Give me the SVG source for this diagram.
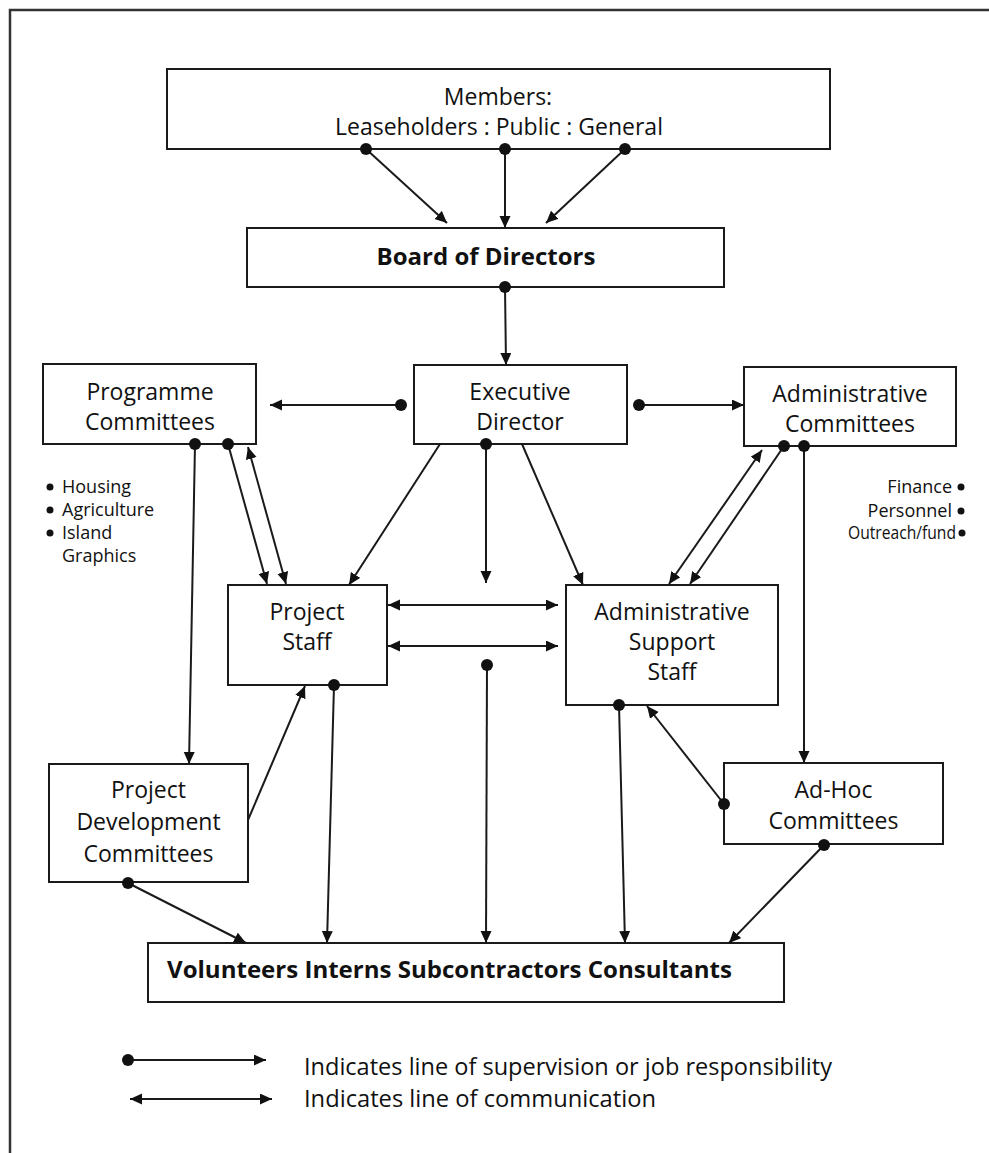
<svg xmlns="http://www.w3.org/2000/svg" width="989" height="1153" viewBox="0 0 989 1153">
<style>
.box{fill:#fff;stroke:#1a1a1a;stroke-width:2}
.t{font-family:"Open Sans","Liberation Sans",sans-serif;font-size:23px;fill:#111;text-anchor:middle}
.b{font-weight:bold;font-size:24px}
.s{font-size:18px;text-anchor:start}
.e{font-size:18px;text-anchor:end}
.bul{fill:#111}
.lg{font-size:23px;text-anchor:start}
.c line{stroke:#1a1a1a;stroke-width:2;fill:none}
.sup{marker-start:url(#dot);marker-end:url(#ah)}
.com{marker-start:url(#ahs);marker-end:url(#ah)}
.arr{marker-end:url(#ah)}
</style>
<defs>
<marker id="ah" markerUnits="userSpaceOnUse" markerWidth="14" markerHeight="12" refX="12" refY="5.5" orient="auto"><path d="M0,0 L12,5.5 L0,11 z" fill="#111"/></marker>
<marker id="ahs" markerUnits="userSpaceOnUse" markerWidth="14" markerHeight="12" refX="12" refY="5.5" orient="auto-start-reverse"><path d="M0,0 L12,5.5 L0,11 z" fill="#111"/></marker>
<marker id="dot" markerUnits="userSpaceOnUse" markerWidth="14" markerHeight="14" refX="7" refY="7" orient="0"><circle cx="7" cy="7" r="6" fill="#111"/></marker>
</defs>
<rect width="989" height="1153" fill="#fff"/>
<path d="M10,1153 V10 H989" fill="none" stroke="#333" stroke-width="2.5"/>

<g id="members">
<rect class="box" x="167" y="69" width="663" height="80"/>
<text class="t" x="498" y="105">Members:</text>
<text class="t" x="499" y="135">Leaseholders : Public : General</text>
</g>
<g id="board">
<rect class="box" x="247" y="228" width="477" height="59"/>
<text class="t b" x="486" y="265">Board of Directors</text>
</g>
<g id="executive">
<rect class="box" x="414" y="365" width="213" height="79"/>
<text class="t" x="520" y="400">Executive</text>
<text class="t" x="520" y="430">Director</text>
</g>
<g id="programme">
<rect class="box" x="43" y="364" width="213" height="80"/>
<text class="t" x="150" y="400">Programme</text>
<text class="t" x="150" y="430">Committees</text>
</g>
<g id="programme-list">
<circle class="bul" cx="50" cy="487" r="3.5"/>
<circle class="bul" cx="50" cy="510" r="3.5"/>
<circle class="bul" cx="50" cy="533" r="3.5"/>
<text class="t s" x="62" y="493">Housing</text>
<text class="t s" x="62" y="516">Agriculture</text>
<text class="t s" x="62" y="539">Island</text>
<text class="t s" x="62" y="562">Graphics</text>
</g>
<g id="admin-committees">
<rect class="box" x="744" y="367" width="212" height="79"/>
<text class="t" x="850" y="402">Administrative</text>
<text class="t" x="850" y="432">Committees</text>
</g>
<g id="admin-list">
<text class="t e" x="952" y="493">Finance</text>
<text class="t e" x="952" y="517">Personnel</text>
<text class="t e" x="956" y="539" textLength="108" lengthAdjust="spacingAndGlyphs">Outreach/fund</text>
<circle class="bul" cx="961" cy="487" r="3.5"/>
<circle class="bul" cx="961" cy="511" r="3.5"/>
<circle class="bul" cx="962" cy="533" r="3.5"/>
</g>
<g id="project-staff">
<rect class="box" x="228" y="585" width="159" height="100"/>
<text class="t" x="307" y="620">Project</text>
<text class="t" x="307" y="650">Staff</text>
</g>
<g id="admin-support">
<rect class="box" x="566" y="585" width="212" height="120"/>
<text class="t" x="672" y="620">Administrative</text>
<text class="t" x="672" y="650">Support</text>
<text class="t" x="672" y="680">Staff</text>
</g>
<g id="project-development">
<rect class="box" x="49" y="764" width="199" height="118"/>
<text class="t" x="148.5" y="798">Project</text>
<text class="t" x="148.5" y="830">Development</text>
<text class="t" x="148.5" y="862">Committees</text>
</g>
<g id="adhoc">
<rect class="box" x="724" y="763" width="219" height="81"/>
<text class="t" x="833.5" y="798">Ad-Hoc</text>
<text class="t" x="833.5" y="829">Committees</text>
</g>
<g id="volunteers">
<rect class="box" x="148" y="943" width="636" height="59"/>
<text class="t b" x="167" y="978" style="text-anchor:start" textLength="565" lengthAdjust="spacingAndGlyphs">Volunteers Interns Subcontractors Consultants</text>
</g>
<g id="legend">
<text class="t lg" x="304" y="1075" textLength="528" lengthAdjust="spacingAndGlyphs">Indicates line of supervision or job responsibility</text>
<text class="t lg" x="304" y="1107" textLength="352" lengthAdjust="spacingAndGlyphs">Indicates line of communication</text>
</g>

<g id="connectors" class="c">
<line class="sup" x1="366" y1="149" x2="447" y2="223"/>
<line class="sup" x1="505" y1="149" x2="505" y2="228"/>
<line class="sup" x1="625" y1="149" x2="546" y2="223"/>
<line class="sup" x1="505" y1="287" x2="506" y2="365"/>
<line class="sup" x1="401" y1="405" x2="270" y2="405"/>
<line class="sup" x1="639" y1="405" x2="744" y2="405"/>
<line class="arr" x1="440" y1="444" x2="349" y2="585"/>
<line class="sup" x1="486" y1="444" x2="486" y2="583"/>
<line class="arr" x1="522" y1="444" x2="583" y2="585"/>
<line class="sup" x1="195" y1="444" x2="189" y2="764"/>
<line class="sup" x1="228" y1="444" x2="267" y2="584"/>
<line class="com" x1="248" y1="447" x2="286" y2="584"/>
<line class="sup" x1="784" y1="446" x2="690" y2="584"/>
<line class="com" x1="762" y1="450" x2="669" y2="584"/>
<line class="sup" x1="804" y1="446" x2="804" y2="763"/>
<line class="com" x1="388" y1="605" x2="558" y2="605"/>
<line class="com" x1="388" y1="646" x2="558" y2="646"/>
<line class="arr" x1="248" y1="820" x2="305" y2="686"/>
<line class="sup" x1="724" y1="804" x2="647" y2="706"/>
<line class="sup" x1="334" y1="685" x2="327" y2="943"/>
<line class="sup" x1="487" y1="665" x2="486" y2="943"/>
<line class="sup" x1="619" y1="705" x2="625" y2="943"/>
<line class="sup" x1="128" y1="883" x2="246" y2="943"/>
<line class="sup" x1="824" y1="845" x2="729" y2="943"/>
<line class="sup" x1="128" y1="1060" x2="266" y2="1060"/>
<line class="com" x1="130" y1="1099" x2="272" y2="1099"/>
</g>
</svg>
